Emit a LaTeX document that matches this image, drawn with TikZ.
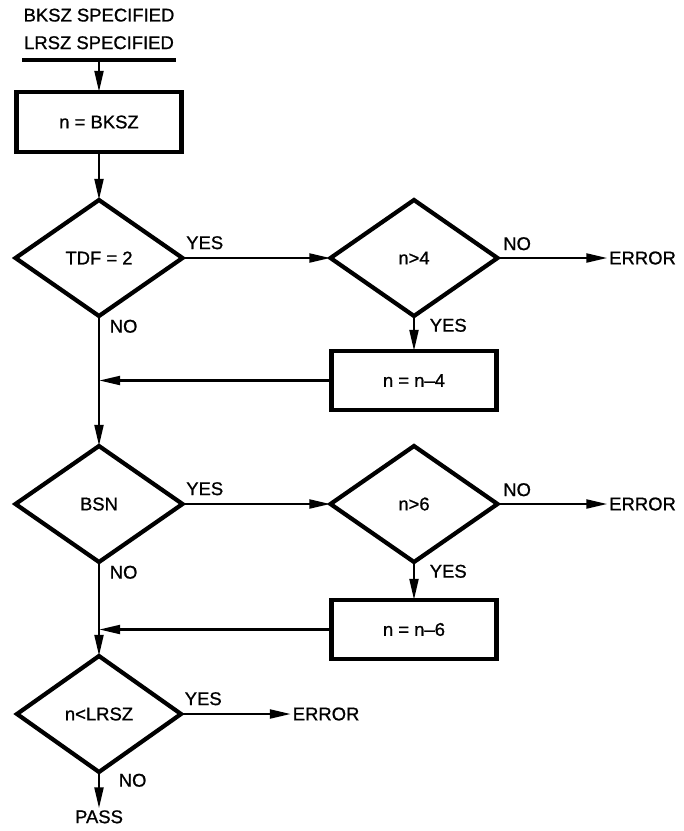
\documentclass[tikz,border=0pt]{standalone}
\usepackage{fontspec}
\setmainfont{Liberation Sans}[FakeBold=0.9]
\usetikzlibrary{shapes.geometric,arrows.meta,positioning}
\tikzset{
  procbox/.style = {rectangle, draw=black, line width=2.3pt, text centered,
                    minimum width=3.3cm, minimum height=1.18cm, inner sep=2pt,
                    outer sep=0pt},
  decide/.style  = {diamond, draw=black, line width=2.4pt, text centered,
                    minimum width=3.34cm, minimum height=2.32cm, inner sep=0pt,
                    outer sep=0pt},
  lbl/.style     = {inner sep=1pt, outer sep=0pt},
  arr/.style     = {-{Triangle[length=12pt,width=5pt]}, line width=1.5pt},
  bar/.style     = {line width=2.2pt},
}
\begin{document}
\begin{tikzpicture}[font=\fontsize{10.5}{12.5}\selectfont]
\useasboundingbox (0,0) rectangle (13.68,-16.62);

\node[procbox, minimum height=1.2cm] (nbksz) at (1.98,-2.44) {n = BKSZ};

%% header
\coordinate[above=0.64cm of nbksz] (bar);
\coordinate[left=1.54cm of bar] (barL);
\coordinate[right=1.54cm of bar] (barR);
\node[lbl, above=0.18cm of bar] (lrsz) {LRSZ SPECIFIED};
\node[lbl, above=0.22cm of lrsz] (bksz) {BKSZ SPECIFIED};

%% first test
\node[decide, below=0.96cm of nbksz] (tdf) {TDF = 2};
\node[decide, right=2.96cm of tdf] (gt4) {n>4};
\node[lbl, right=2.2cm of gt4] (err1) {ERROR};
\node[procbox, below=0.7cm of gt4] (sub4) {n = n--4};

%% second test
\node[decide, below=2.6cm of tdf] (bsn) {BSN};
\node[decide, right=2.96cm of bsn] (gt6) {n>6};
\node[lbl, right=2.2cm of gt6] (err2) {ERROR};
\node[procbox, below=0.76cm of gt6] (sub6) {n = n--6};

%% final test
\node[decide, below=1.88cm of bsn, minimum width=3.28cm] (ltl) {n<LRSZ};
\node[lbl, right=2.2cm of ltl] (err3) {ERROR};
\node[lbl, below=0.73cm of ltl] (pass) {PASS};

%% arrows
\draw[bar] (barL) -- (barR);
\draw[arr] (bar) -- (nbksz);
\draw[arr] (nbksz) -- (tdf);
\draw[arr] (tdf) -- node[lbl, pos=0, above right=0.14cm and 0.04cm] {YES} (gt4);
\draw[arr] (gt4) -- node[lbl, pos=0, above right=0.12cm and 0.08cm] {NO} (err1);
\draw[arr] (gt4) -- node[lbl, pos=0, below right=0.02cm and 0.28cm] {YES} (sub4);
\draw[arr] (sub4.west) -- (sub4.west -| tdf.south);
\draw[arr] (tdf) -- node[lbl, pos=0, below right=0.04cm and 0.18cm] {NO} (bsn);
\draw[arr] (bsn) -- node[lbl, pos=0, above right=0.14cm and 0.04cm] {YES} (gt6);
\draw[arr] (gt6) -- node[lbl, pos=0, above right=0.12cm and 0.08cm] {NO} (err2);
\draw[arr] (gt6) -- node[lbl, pos=0, below right=0.02cm and 0.28cm] {YES} (sub6);
\draw[arr] (sub6.west) -- (sub6.west -| bsn.south);
\draw[arr] (bsn) -- node[lbl, pos=0, below right=0.04cm and 0.18cm] {NO} (ltl);
\draw[arr] (ltl) -- node[lbl, pos=0, above right=0.14cm and 0.04cm] {YES} (err3);
\draw[arr] (ltl) -- node[lbl, pos=0, below right=0.0cm and 0.36cm] {NO} (pass);

\end{tikzpicture}
\end{document}
